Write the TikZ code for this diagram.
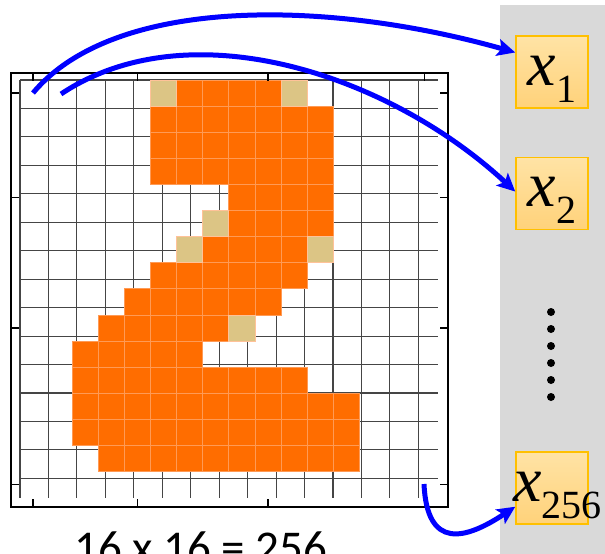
\documentclass[tikz,border=0pt]{standalone}
\usepackage{fontspec}
\setmainfont{Liberation Serif}
\newfontfamily\varfont{Liberation Serif}
\newfontfamily\labelfont{Carlito}
\usepackage{tikz}
\usetikzlibrary{arrows.meta, positioning, calc}
\definecolor{pixorange}{HTML}{FF6D00}
\definecolor{pixbeige}{HTML}{DCC585}
\definecolor{pixline}{HTML}{FF9A55}
\definecolor{meshgray}{HTML}{454545}
\definecolor{panelgray}{HTML}{D9D9D9}
\definecolor{boxtop}{HTML}{FFE3A5}
\definecolor{boxbot}{HTML}{FFD27A}
\definecolor{boxedge}{HTML}{FFC000}
\definecolor{arrblue}{HTML}{0000FF}
\newcommand{\xsub}[1]{{\varfont\itshape x}\raisebox{-17pt}{\varfont\upshape\fontsize{40}{40}\selectfont #1}}

\begin{document}
\begin{tikzpicture}[x=1pt, y=-1pt,
  box/.style={rectangle, draw=boxedge, line width=1.5pt, top color=boxtop,
              bottom color=boxbot, minimum size=72pt, inner sep=0pt,
              text height=40pt, text depth=14pt, font=\varfont\fontsize{64}{64}\selectfont},
  arr/.style={-{Stealth[length=18pt, width=17pt, inset=4pt]}, line width=5pt, color=arrblue},
  pix/.style={fill=pixorange, draw=pixline, line width=0.8pt},
  halfpix/.style={fill=pixbeige, draw=pixline!60!white, line width=0.8pt}
]
  \useasboundingbox (0,0) rectangle (605,554);

  % input vector panel
  \fill[panelgray] (500,5) rectangle (610,560);

  % 16 x 16 image
  \begin{scope}[shift={(20,80)}, x=26.1pt, y=-26.1pt]
    \draw[meshgray, line width=1.1pt] (0,0) grid (16,16);
    \foreach \r/\a/\b in {0/6/9, 1/5/11, 2/5/11, 3/5/11, 4/8/11, 5/8/11, 6/7/10,
                          7/5/10, 8/4/9, 9/3/7, 10/2/6, 11/2/10, 12/2/12, 13/2/12, 14/3/12}
      \foreach \c in {\a,...,\b}
        \draw[pix] (\c,\r) rectangle ++(1,1);
    \foreach \c/\r in {5/0, 10/0, 7/5, 6/6, 11/6, 8/9}
      \draw[halfpix] (\c,\r) rectangle ++(1,1);
  \end{scope}
  \draw[line width=2pt] (11,73) rectangle (448,507);
  \foreach \t in {0,4,9,15} {
    \draw[line width=1.5pt] ({20+26.1*(\t+0.5)},73) -- ++(0,8);
    \draw[line width=1.5pt] ({20+26.1*(\t+0.5)},507) -- ++(0,-8);
    \draw[line width=1.5pt] (11,{80+26.1*(\t+0.5)}) -- ++(8,0);
    \draw[line width=1.5pt] (448,{80+26.1*(\t+0.5)}) -- ++(-8,0);
  }
  \node[anchor=base west, inner sep=0pt, font=\labelfont\fontsize{47}{47}\selectfont]
    (caption) at (74,563) {16 x 16 = 256};

  % vector entries
  \node[box] (x1) at (552,72) {\xsub{1}};
  \node[box] (x2) [below=48pt of x1] {\xsub{2}};
  \node[box] (x256) [below=221pt of x2] {\makebox[72pt][l]{\hspace*{-3pt}\xsub{256}}};
  \foreach \k in {0,...,5}
    \fill (551,{312+17*\k}) circle (4pt);

  % pixel to entry
  \coordinate (s1) at (33,93);
  \coordinate (s2) at (61,94);
  \coordinate (s3) at (424,484);
  \draw[arr] (s1) .. controls (115,-5) and (330,0) .. (x1.152);
  \draw[arr] (s2) .. controls (190,8) and (390,75) .. (x2.177);
  \draw[arr] (s3) .. controls (427,550) and (465,540) .. (x256.207);
\end{tikzpicture}
\end{document}
